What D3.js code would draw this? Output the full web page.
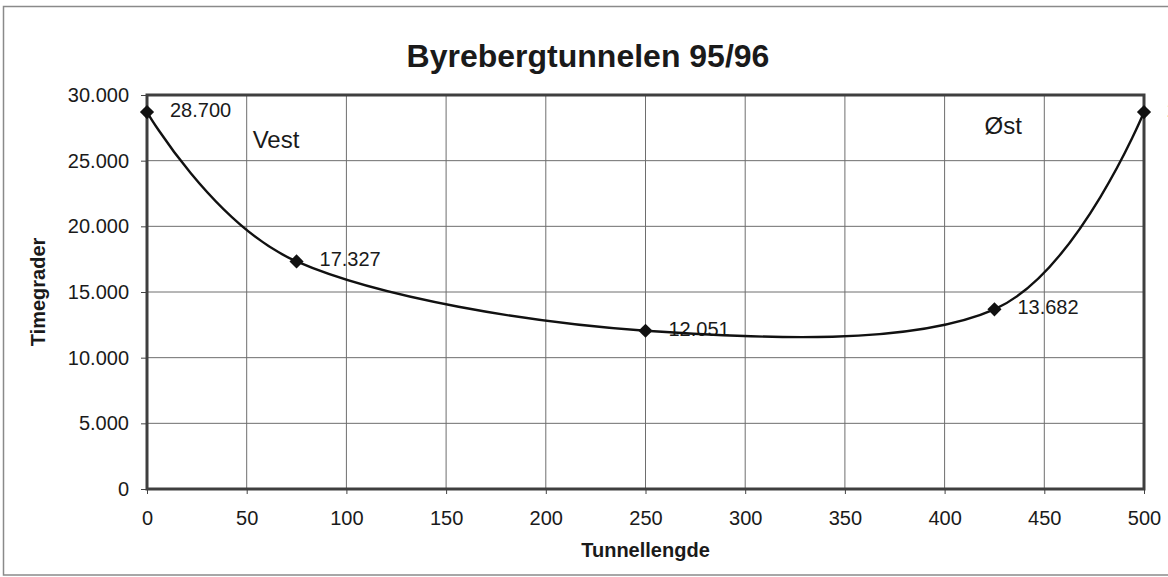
<!DOCTYPE html>
<html>
<head>
<meta charset="utf-8">
<script src="https://cdn.jsdelivr.net/npm/d3@7"></script>
<style>
  body { margin: 0; background: #fff; }
  #chart { width: 1168px; height: 577px; }
  text { font-family: Arial, "Liberation Sans", sans-serif; fill: #1a1a1a; }
</style>
</head>
<body>
<div id="chart"></div>
<script>
"use strict";

// data
const lengths = [0, 75, 250, 425, 500];
const degreeHours = [28700, 17327, 12051, 13682, 28700];
const xTicks = [0, 50, 100, 150, 200, 250, 300, 350, 400, 450, 500];
const yTicks = [0, 5000, 10000, 15000, 20000, 25000, 30000];
const sideLabels = [["Vest", 53, 26000], ["Øst", 420, 27000]];

const title = "Byrebergtunnelen 95/96";
const xTitle = "Tunnellengde";
const yTitle = "Timegrader";

const width = 1168, height = 577;
const margin = {top: 95, right: 24, bottom: 88, left: 147};

// norwegian number format: 28.700
const nb = d3.formatLocale({decimal: ",", thousands: ".", grouping: [3], currency: ["kr ", ""]});
const fmt = nb.format(",d");

const svg = d3.select("#chart").append("svg")
    .attr("width", width)
    .attr("height", height);

// outer frame of the scanned chart
svg.append("path")
    .attr("d", "M1175,6.5 H3.5 V575 H1175")
    .attr("fill", "none")
    .attr("stroke", "#8a8a8a")
    .attr("stroke-width", 1.5);

const x = d3.scaleLinear()
    .domain([0, 500])
    .range([margin.left, width - margin.right]);

const y = d3.scaleLinear()
    .domain([0, 30000])
    .range([height - margin.bottom, margin.top]);

// grid
const grid = svg.append("g").attr("stroke", "#6e6e6e").attr("stroke-width", 1);
grid.selectAll("line.v")
    .data(xTicks.slice(1, -1))
    .enter().append("line")
    .attr("x1", d => x(d)).attr("x2", d => x(d))
    .attr("y1", y(30000)).attr("y2", y(0));
grid.selectAll("line.h")
    .data(yTicks.slice(1, -1))
    .enter().append("line")
    .attr("x1", x(0)).attr("x2", x(500))
    .attr("y1", d => y(d)).attr("y2", d => y(d));

// axes
const xAxis = d3.axisBottom(x).tickValues(xTicks).tickSize(5).tickPadding(17).tickFormat(d3.format("d"));
const yAxis = d3.axisLeft(y).tickValues(yTicks).tickSize(6).tickPadding(12).tickFormat(fmt);

svg.append("g")
    .attr("transform", "translate(0," + y(0) + ")")
    .call(xAxis)
    .call(g => g.select(".domain").remove())
    .call(g => g.selectAll("line").attr("stroke", "#444"))
    .call(g => g.selectAll("text").attr("font-size", 20).attr("fill", "#1a1a1a"));

svg.append("g")
    .attr("transform", "translate(" + x(0) + ",0)")
    .call(yAxis)
    .call(g => g.select(".domain").remove())
    .call(g => g.selectAll("line").attr("stroke", "#444"))
    .call(g => g.selectAll("text").attr("font-size", 20).attr("fill", "#1a1a1a"));

// plot frame (thick, dark)
svg.append("rect")
    .attr("x", x(0)).attr("y", y(30000))
    .attr("width", x(500) - x(0)).attr("height", y(0) - y(30000))
    .attr("fill", "none")
    .attr("stroke", "#3f3f3f")
    .attr("stroke-width", 3);

// data labels (the last one runs off the edge, as in the scan)
const points = lengths.map((l, i) => [l, degreeHours[i]]);
svg.append("g").selectAll("text")
    .data(points)
    .enter().append("text")
    .attr("x", d => x(d[0]) + 23)
    .attr("y", d => y(d[1]) - 2)
    .attr("dy", "0.35em")
    .attr("font-size", 20)
    .text(d => fmt(d[1]));

// smoothed line like excel
const line = d3.line()
    .x(d => x(d[0]))
    .y(d => y(d[1]))
    .curve(d3.curveCardinal.tension(0));

svg.append("path")
    .datum(points)
    .attr("d", line)
    .attr("fill", "none")
    .attr("stroke", "#111")
    .attr("stroke-width", 2.4);

svg.append("g").selectAll("path")
    .data(points)
    .enter().append("path")
    .attr("transform", d => "translate(" + x(d[0]) + "," + y(d[1]) + ") rotate(45)")
    .attr("d", d3.symbol(d3.symbolSquare, 100))
    .attr("fill", "#111");

// Vest / Øst
svg.append("g").selectAll("text")
    .data(sideLabels)
    .enter().append("text")
    .attr("x", d => x(d[1]))
    .attr("y", d => y(d[2]))
    .attr("font-size", 24)
    .text(d => d[0]);

// titles
svg.append("text")
    .attr("x", 588).attr("y", 67)
    .attr("text-anchor", "middle")
    .attr("font-size", 32)
    .attr("font-weight", "bold")
    .text(title);

svg.append("text")
    .attr("x", (x(0) + x(500)) / 2).attr("y", 557)
    .attr("text-anchor", "middle")
    .attr("font-size", 20)
    .attr("font-weight", "bold")
    .text(xTitle);

svg.append("text")
    .attr("transform", "translate(45," + y(15000) + ") rotate(-90)")
    .attr("text-anchor", "middle")
    .attr("font-size", 20)
    .attr("font-weight", "bold")
    .text(yTitle);
</script>
</body>
</html>
